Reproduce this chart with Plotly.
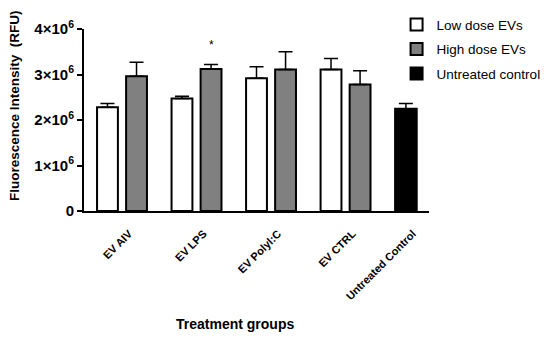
import plotly.graph_objects as go

groups = ["EV AIV", "EV LPS", "EV Polyl:C", "EV CTRL"]
low_vals = [2.28e6, 2.47e6, 2.92e6, 3.11e6]
low_err = [0.08e6, 0.05e6, 0.25e6, 0.24e6]
high_vals = [2.96e6, 3.12e6, 3.11e6, 2.78e6]
high_err = [0.31e6, 0.10e6, 0.39e6, 0.30e6]
ctrl_label = "Untreated Control"
ctrl_val = [2.25e6]
ctrl_err = [0.11e6]
y_ticks = [0, 1e6, 2e6, 3e6, 4e6]
y_ticktext = ["0", "1×10<sup>6</sup>", "2×10<sup>6</sup>", "3×10<sup>6</sup>", "4×10<sup>6</sup>"]

# layout positions
centers = [0, 1, 2, 3]
ctrl_pos = 3.81
off = 0.195
bw = 0.28
FONT = "Liberation Sans, Arial, sans-serif"

fig = go.Figure()
fig.add_trace(go.Bar(
    name="Low dose EVs", x=[c - off for c in centers], y=low_vals, width=bw, legendgroup="a",
    marker=dict(color="white", line=dict(color="black", width=2)),
    error_y=dict(type="data", array=low_err, arrayminus=[0]*4, symmetric=False,
                 color="black", thickness=1.5, width=7),
))
fig.add_trace(go.Bar(
    name="High dose EVs", x=[c + off for c in centers], y=high_vals, width=bw, legendgroup="b",
    marker=dict(color="#808080", line=dict(color="black", width=2)),
    error_y=dict(type="data", array=high_err, arrayminus=[0]*4, symmetric=False,
                 color="black", thickness=1.5, width=7),
))
fig.add_trace(go.Bar(
    name="Untreated control", x=[ctrl_pos], y=ctrl_val, width=0.29, legendgroup="c",
    marker=dict(color="black", line=dict(color="black", width=2)),
    error_y=dict(type="data", array=ctrl_err, arrayminus=[0], symmetric=False,
                 color="black", thickness=1.5, width=7),
))

fig.add_annotation(x=1 + off, y=3.45e6, text="*", showarrow=False,
                   font=dict(size=12, color="black", family=FONT), yanchor="bottom")
fig.add_annotation(x=0.438, y=-0.62, xref="paper", yref="paper", text="<b>Treatment groups</b>",
                   showarrow=False, yanchor="middle", xanchor="center",
                   font=dict(size=14, color="black", family=FONT))
fig.add_annotation(x=-0.2, y=0.577, xref="paper", yref="paper",
                   text="<b>Fluorescence Intensity  (RFU)</b>", textangle=-90,
                   showarrow=False, yanchor="middle", xanchor="center",
                   font=dict(size=13.5, color="black", family=FONT))

fig.update_layout(
    width=550, height=340,
    margin=dict(l=76, r=129, t=21, b=137, autoexpand=False),
    plot_bgcolor="white", paper_bgcolor="white",
    font=dict(family=FONT, color="black"),
    showlegend=True,
    legend=dict(x=0.906, y=1.109, xanchor="left", yanchor="top",
                font=dict(size=13.5, family=FONT), bgcolor="rgba(0,0,0,0)",
                itemwidth=30, tracegroupgap=4, traceorder="grouped"),
    barmode="overlay",
)
fig.update_xaxes(
    range=[-0.51, 4.12], showline=True, linecolor="black", linewidth=2, automargin=False,
    tickvals=centers + [ctrl_pos], ticktext=["<b>%s</b>" % g for g in groups + [ctrl_label]],
    tickangle=-45, ticks="", tickfont=dict(size=11, family=FONT), showgrid=False, zeroline=False,
    ticklabelstandoff=10, ticklabelshift=7,
)
fig.update_yaxes(
    range=[0, 4e6], showline=True, linecolor="black", linewidth=2, automargin=False,
    tickvals=y_ticks, ticktext=["<b>%s</b>" % t for t in y_ticktext],
    ticks="outside", ticklen=5, tickwidth=2, tickcolor="black",
    tickfont=dict(size=15, family=FONT), showgrid=False, zeroline=False,
)
fig.write_html("out.html")
